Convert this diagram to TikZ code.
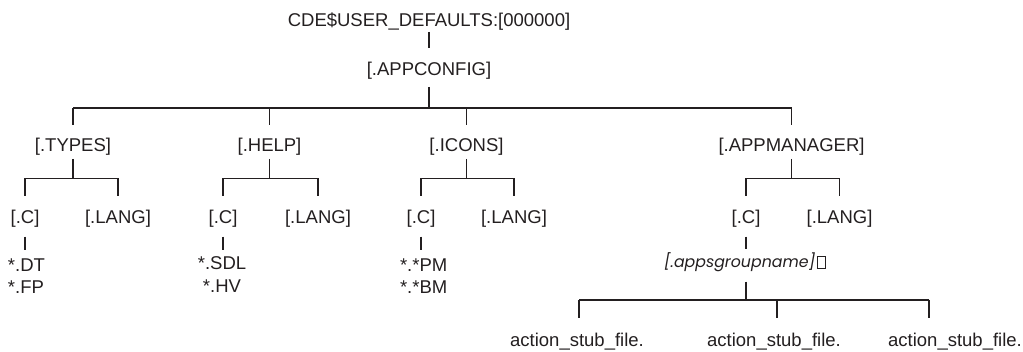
\documentclass[tikz,border=0pt]{standalone}
\usepackage{fontspec}
\setmainfont{Liberation Sans}
\newfontfamily\geofont{Poppins}
\definecolor{ink}{RGB}{35,31,32}
\begin{document}
\begin{tikzpicture}[x=1pt,y=-1pt,
  lbl/.style={inner sep=0pt, outer sep=0pt, text height=13.5pt, text depth=0pt, anchor=base, text=ink,
              font=\fontsize{18.5}{22}\selectfont},
  conn/.style={draw=ink, line width=1.5pt},
]
\useasboundingbox (0,0) rectangle (1023,352);

% level 0 and 1
\node[lbl] (root) at (429,26.5) {CDE\$USER\_DEFAULTS:[000000]};
\node[lbl] (app) at (429,76) {[.APPCONFIG]};
\draw[conn, shorten <=5.5pt, shorten >=14.5pt] (root.south) -- (app.north);

% level 2
\node[lbl] (types) at (73,151.5) {[.TYPES]};
\node[lbl] (help) at (269.5,151.5) {[.HELP]};
\node[lbl] (icons) at (466.5,151.5) {[.ICONS]};
\node[lbl] (appm) at (791.5,151.5) {[.APPMANAGER]};
\coordinate (bus1) at (429,108);
\draw[conn, shorten <=11pt] (app.south) -- (bus1);
\draw[conn] (types.north |- bus1) -- (appm.north |- bus1);
\foreach \n in {types,help,icons,appm}
  \draw[conn, shorten >=13pt] (\n.north |- bus1) -- (\n.north);

% level 3
\node[lbl] (c1) at (25,224) {[.C]};
\node[lbl] (l1) at (118,224) {[.LANG]};
\node[lbl] (c2) at (223,224) {[.C]};
\node[lbl] (l2) at (318,224) {[.LANG]};
\node[lbl] (c3) at (421,224) {[.C]};
\node[lbl] (l3) at (514,224) {[.LANG]};
\node[lbl] (c4) at (746,224) {[.C]};
\node[lbl] (l4) at (839.5,224) {[.LANG]};

\foreach \p/\a/\b in {types/c1/l1, help/c2/l2, icons/c3/l3, appm/c4/l4}{
  \coordinate (bus-\p) at (\p.south |- 0,178.5);
  \draw[conn, shorten <=7.5pt] (\p.south) -- (bus-\p);
  \draw[conn] (\a.north |- bus-\p) -- (\b.north |- bus-\p);
  \draw[conn, shorten >=14.5pt] (\a.north |- bus-\p) -- (\a.north);
  \draw[conn, shorten >=14.5pt] (\b.north |- bus-\p) -- (\b.north);
}

% leaves
\node[lbl, anchor=base west] (dt) at (8,271.5) {*.DT};
\node[lbl, anchor=base west] (fp) at (8,294) {*.FP};
\node[lbl] (sdl) at (222,270) {*.SDL};
\node[lbl] (hv) at (222,292.5) {*.HV};
\node[lbl, anchor=base west] (pm) at (400,271.5) {*.*PM};
\node[lbl, anchor=base west] (bm) at (400,294) {*.*BM};
\draw[conn, shorten <=12.7pt, shorten >=8pt] (c1.south) -- (c1.south |- dt.north);
\draw[conn, shorten <=12.7pt, shorten >=6.5pt] (c2.south) -- (c2.south |- sdl.north);
\draw[conn, shorten <=12.7pt, shorten >=8pt] (c3.south) -- (c3.south |- pm.north);

% appsgroupname
\node[lbl, anchor=base west] (apps) at (664,268)
  {{\geofont\itshape\fontsize{15.8}{20}\selectfont [.appsgroupname]}\hspace{1.5pt}{\setlength{\fboxsep}{0pt}\setlength{\fboxrule}{0.6pt}\fbox{\rule{0pt}{11pt}\hspace{7.5pt}}}};
\draw[conn, shorten <=12.7pt, shorten >=5pt] (c4.south) -- (c4.south |- apps.north);

% action stub files
\coordinate (bus3) at (746,300);
\draw[conn, shorten <=13.7pt] (c4.south |- apps.south) -- (bus3);
\node[lbl] (a1) at (577,347) {action\_stub\_file.};
\node[lbl] (a2) at (774,347) {action\_stub\_file.};
\node[lbl] (a3) at (955,347) {action\_stub\_file.};
\coordinate (t1) at (579,318);
\coordinate (t2) at (777,318);
\coordinate (t3) at (929,318);
\draw[conn] (t1 |- bus3) -- (t3 |- bus3);
\foreach \t in {t1,t2,t3}
  \draw[conn] (\t |- bus3) -- (\t);
\end{tikzpicture}
\end{document}
